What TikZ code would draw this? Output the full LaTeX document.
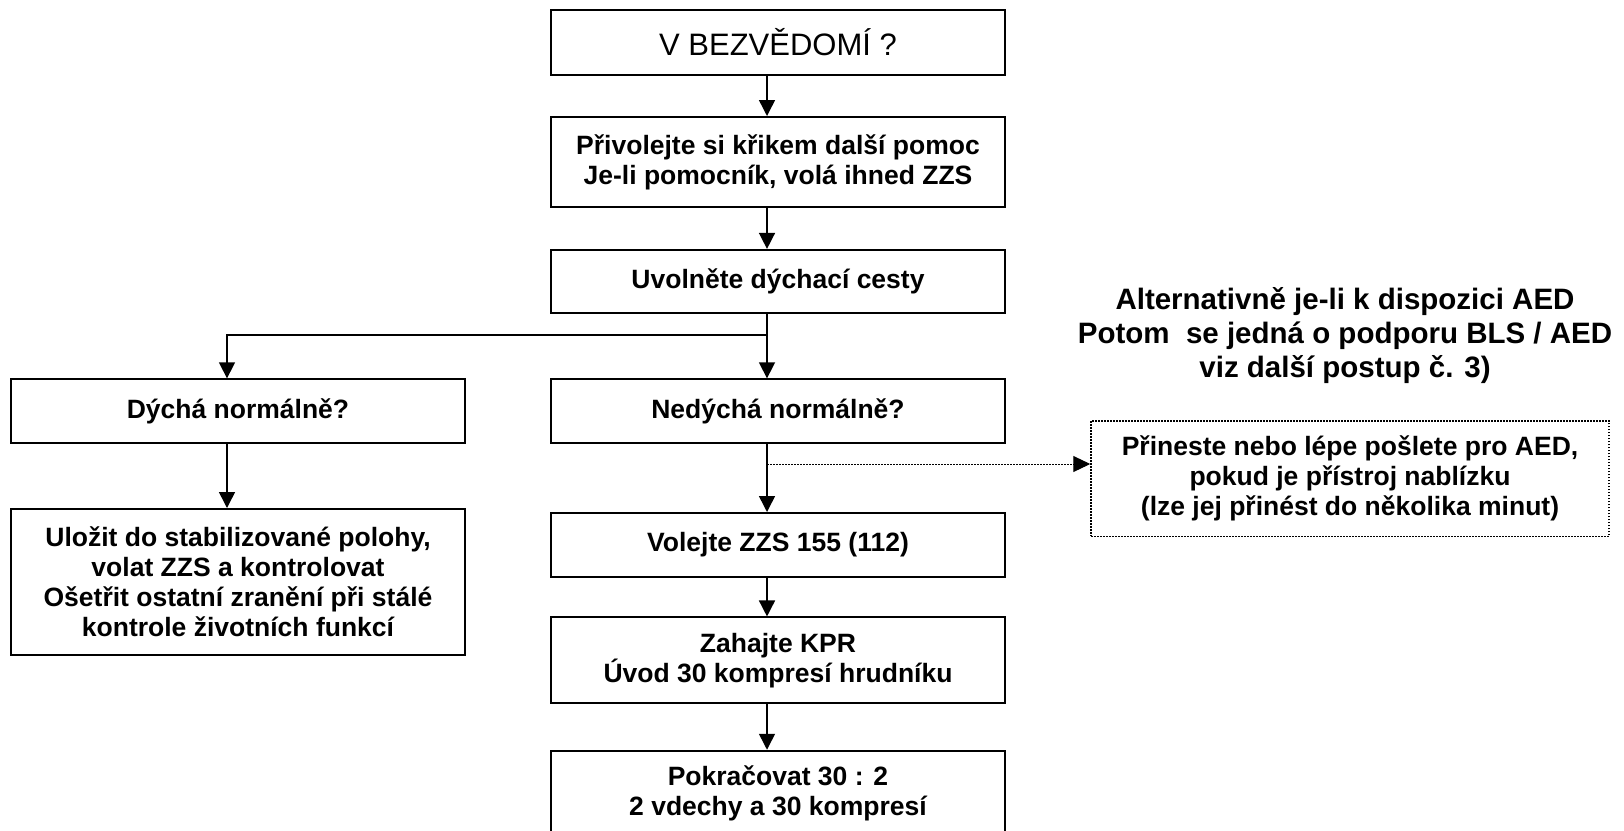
\documentclass[tikz,border=0pt]{standalone}
\usepackage{fontspec}
\setmainfont{Liberation Sans}
\usetikzlibrary{arrows.meta}
\begin{document}
\begin{tikzpicture}[x=1pt,y=-1pt,
  box/.style={draw=black, line width=2pt, minimum width=454pt, inner sep=0pt, align=center,
    font=\bfseries\fontsize{26.5}{30}\selectfont},
  dotbox/.style={draw=black, line width=1.5pt, dash pattern=on 1.5pt off 1.5pt, minimum width=518pt,
    inner sep=0pt, align=center, font=\bfseries\fontsize{26.5}{30}\selectfont},
  arr/.style={line width=1.5pt, -{Triangle[length=16pt,width=16pt]}},
  dotarr/.style={line width=1pt, dash pattern=on 1.5pt off 1.5pt, -{Triangle[length=17pt,width=16pt]}},
  conn/.style={line width=1.5pt}]
\useasboundingbox (0,0) rectangle (1624,830);

% arrow axes
\coordinate (ax) at (767,0);
\coordinate (lx) at (227,0);

\node[box, minimum height=65pt, font=\fontsize{31}{36}\selectfont] (b1) at (778,42.5) {V BEZVĚDOMÍ ?};
\node[box, minimum height=90pt] (b2) at (778,162) {Přivolejte si křikem další pomoc\\Je-li pomocník, volá ihned ZZS};
\node[box, minimum height=63pt] (b3) at (778,281.4) {Uvolněte dýchací cesty};
\node[box, minimum height=63.3pt] (nd) at (778,411) {Nedýchá normálně?};
\node[box, minimum height=63.3pt] (dy) at (238,411) {Dýchá normálně?};
\node[box, minimum height=146pt] (ul) at (238,582) {Uložit do stabilizované polohy,\\volat ZZS a kontrolovat\\Ošetřit ostatní zranění při stálé\\kontrole životních funkcí};
\node[box, minimum height=64pt] (vo) at (778,545) {Volejte ZZS 155 (112)};
\node[box, minimum height=85.5pt] (za) at (778,660.2) {Zahajte KPR\\Úvod 30 kompresí hrudníku};
\node[box, minimum height=85.5pt] (po) at (778,793.5) {Pokračovat 30 : 2\\2 vdechy a 30 kompresí};
\node[dotbox, minimum height=115.5pt] (ae) at (1350,478.5) {Přineste nebo lépe pošlete pro AED,\\pokud je přístroj nablízku\\(lze jej přinést do několika minut)};
\node[align=center, font=\bfseries\fontsize{29.5}{34}\selectfont] (alt) at (1345,336) {Alternativně je-li k dispozici AED\\Potom\ \ se jedná o podporu BLS / AED\\viz další postup č. 3)};

\coordinate (br) at (767,335);
\coordinate (dj) at (767,464);

\draw[arr] (b1.south -| ax) -- (b2.north -| ax);
\draw[arr] (b2.south -| ax) -- (b3.north -| ax);
\draw[arr] (b3.south -| ax) -- (nd.north -| ax);
\draw[arr] (br) -- (br -| lx) -- (dy.north -| lx);
\draw[arr] (dy.south -| lx) -- (ul.north -| lx);
\draw[arr] (nd.south -| ax) -- (vo.north -| ax);
\draw[dotarr] (dj) -- (ae.west |- dj);
\draw[arr] (vo.south -| ax) -- (za.north -| ax);
\draw[arr] (za.south -| ax) -- (po.north -| ax);
\end{tikzpicture}
\end{document}
